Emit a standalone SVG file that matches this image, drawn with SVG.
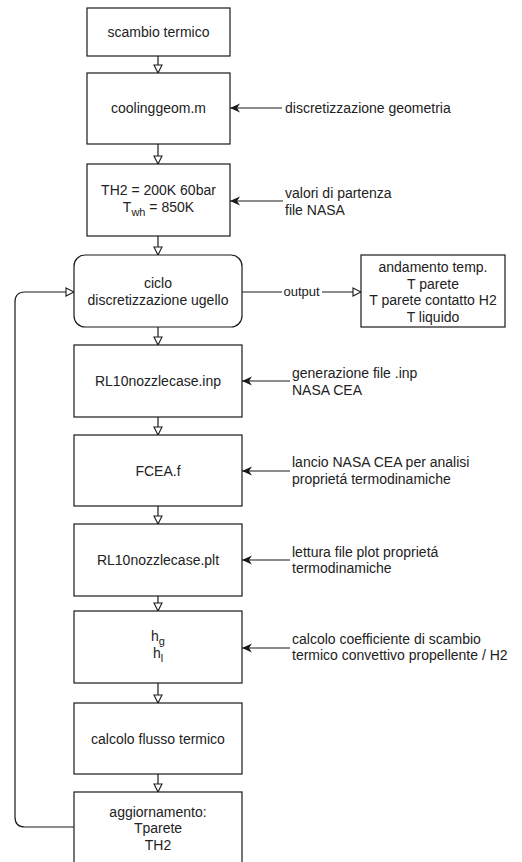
<svg xmlns="http://www.w3.org/2000/svg" width="522" height="862" viewBox="0 0 522 862">
<style>
.box{fill:#fff;stroke:#1a1a1a;stroke-width:1.2}
.t{font-family:"Liberation Sans",Arial,sans-serif;font-size:14px;fill:#222}
.c{text-anchor:middle}
.e{fill:none;stroke:#1a1a1a;stroke-width:1.2}
.sub{font-size:11px}
</style>
<defs>
<marker id="open" markerUnits="userSpaceOnUse" markerWidth="10" markerHeight="10" refX="8" refY="4" orient="auto" viewBox="-1 -1 10 10">
<path d="M0,0 L8,4 L0,8 Z" fill="#fff" stroke="#1a1a1a" stroke-width="1.1"/>
</marker>
<marker id="fill" markerUnits="userSpaceOnUse" markerWidth="12" markerHeight="10" refX="10" refY="4.5" orient="auto" viewBox="0 0 12 10">
<path d="M0,0 L10,4.5 L0,9 L3,4.5 Z" fill="#1a1a1a"/>
</marker>
</defs>
<rect width="522" height="862" fill="#fff"/>
<g id="connectors">
<line class="e" x1="158" y1="56" x2="158" y2="73" marker-end="url(#open)"/>
<line class="e" x1="158" y1="144" x2="158" y2="164" marker-end="url(#open)"/>
<line class="e" x1="158" y1="236" x2="158" y2="255" marker-end="url(#open)"/>
<line class="e" x1="158" y1="327" x2="158" y2="345" marker-end="url(#open)"/>
<line class="e" x1="158" y1="417" x2="158" y2="435" marker-end="url(#open)"/>
<line class="e" x1="158" y1="506" x2="158" y2="524" marker-end="url(#open)"/>
<line class="e" x1="158" y1="596" x2="158" y2="611" marker-end="url(#open)"/>
<line class="e" x1="158" y1="683" x2="158" y2="703" marker-end="url(#open)"/>
<line class="e" x1="158" y1="774" x2="158" y2="792" marker-end="url(#open)"/>
<line class="e" x1="242" y1="292" x2="361" y2="292" marker-end="url(#open)"/>
<rect x="282" y="284" width="40" height="16" fill="#fff"/>
<text class="t c" x="301.5" y="296" style="font-size:13px">output</text>
<path class="e" d="M74,827 H25 Q15,827 15,817 V302 Q15,292 25,292 H74" marker-end="url(#open)"/>
<line class="e" x1="282" y1="108" x2="230" y2="108" marker-end="url(#fill)"/>
<line class="e" x1="283" y1="201" x2="230" y2="201" marker-end="url(#fill)"/>
<line class="e" x1="290" y1="381" x2="242" y2="381" marker-end="url(#fill)"/>
<line class="e" x1="290" y1="471" x2="242" y2="471" marker-end="url(#fill)"/>
<line class="e" x1="290" y1="560" x2="242" y2="560" marker-end="url(#fill)"/>
<line class="e" x1="290" y1="648" x2="242" y2="648" marker-end="url(#fill)"/>
</g>
<g id="n1"><rect class="box" x="87" y="8" width="143" height="48"/><text class="t c" x="158.5" y="37">scambio termico</text></g>
<g id="n2"><rect class="box" x="87" y="73" width="143" height="71"/><text class="t c" x="158.5" y="113">coolinggeom.m</text></g>
<g id="n3"><rect class="box" x="87" y="164" width="143" height="72"/>
<text class="t c" x="158.5" y="195">TH2 = 200K 60bar</text>
<text class="t c" x="158.5" y="212">T<tspan class="sub" dy="4">wh</tspan><tspan dy="-4"> = 850K</tspan></text></g>
<g id="n4"><rect class="box" x="74" y="255" width="168" height="72" rx="11" ry="11"/>
<text class="t c" x="158" y="288">ciclo</text><text class="t c" x="158" y="305">discretizzazione ugello</text></g>
<g id="n5"><rect class="box" x="361" y="255" width="144" height="72"/>
<text class="t c" x="433" y="272">andamento temp.</text>
<text class="t c" x="433" y="288.5">T parete</text>
<text class="t c" x="433" y="305">T parete contatto H2</text>
<text class="t c" x="433" y="321.5">T liquido</text></g>
<g id="n6"><rect class="box" x="74" y="345" width="168" height="72"/><text class="t c" x="158" y="386">RL10nozzlecase.inp</text></g>
<g id="n7"><rect class="box" x="74" y="435" width="168" height="71"/><text class="t c" x="158" y="476">FCEA.f</text></g>
<g id="n8"><rect class="box" x="74" y="524" width="168" height="72"/><text class="t c" x="158" y="565">RL10nozzlecase.plt</text></g>
<g id="n9"><rect class="box" x="74" y="611" width="168" height="72"/>
<text class="t c" x="158" y="641">h<tspan class="sub" dy="4">g</tspan></text>
<text class="t c" x="158" y="658">h<tspan class="sub" dy="4">l</tspan></text></g>
<g id="n10"><rect class="box" x="74" y="703" width="168" height="71"/><text class="t c" x="158" y="744">calcolo flusso termico</text></g>
<g id="n11"><rect class="box" x="74" y="792" width="168" height="82"/>
<text class="t c" x="158" y="817">aggiornamento:</text>
<text class="t c" x="158" y="833">Tparete</text>
<text class="t c" x="158" y="850">TH2</text></g>
<g id="labels">
<text class="t" x="285" y="113">discretizzazione geometria</text>
<text class="t" x="285" y="198">valori di partenza</text>
<text class="t" x="285" y="215">file NASA</text>
<text class="t" x="292" y="378">generazione file .inp</text>
<text class="t" x="292" y="395">NASA CEA</text>
<text class="t" x="292" y="467">lancio NASA CEA per analisi</text>
<text class="t" x="292" y="484">proprietá termodinamiche</text>
<text class="t" x="292" y="557">lettura file plot proprietá</text>
<text class="t" x="292" y="573">termodinamiche</text>
<text class="t" x="292" y="644">calcolo coefficiente di scambio</text>
<text class="t" x="292" y="660">termico convettivo propellente / H2</text>
</g>
</svg>
